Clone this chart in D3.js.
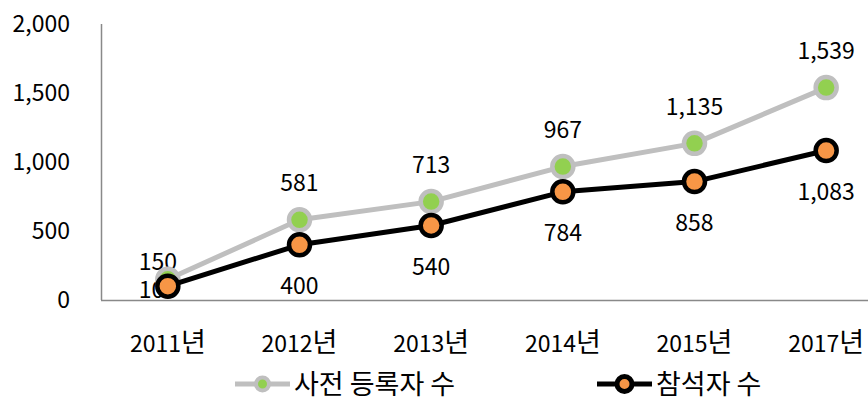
<!DOCTYPE html>
<html><head><meta charset="utf-8">
<script src="https://cdn.jsdelivr.net/npm/d3@7/dist/d3.min.js"></script>
<style>
html,body{margin:0;padding:0;background:#fff;}
svg{display:block;}
text{font-family:"Noto Sans CJK KR","Noto Sans",sans-serif;fill:#000;}
</style></head>
<body>
<script>
const categories = ["2011년","2012년","2013년","2014년","2015년","2017년"];
const registered = [150, 581, 713, 967, 1135, 1539];
const attended = [100, 400, 540, 784, 858, 1083];
const yTicks = [0, 500, 1000, 1500, 2000];
const seriesNames = ["사전 등록자 수", "참석자 수"];

const W = 868, H = 400;
const svg = d3.select("body").append("svg").attr("width", W).attr("height", H);

const x = d3.scaleBand().domain(categories).range([102, 892]).padding(0);
const y = d3.scaleLinear().domain([0, 2000]).range([300, 24]);
const cx = c => x(c) + x.bandwidth() / 2;
const fmt = d3.format(",");
const FS = 23;     // digits
const FK = 27;     // Korean glyphs

// axes lines
svg.append("line").attr("x1", 101.5).attr("x2", 101.5).attr("y1", y(2000)).attr("y2", y(0))
  .attr("stroke", "#898989").attr("stroke-width", 1.5);
svg.append("line").attr("x1", 101).attr("x2", W).attr("y1", y(0)+0.5).attr("y2", y(0)+0.5)
  .attr("stroke", "#898989").attr("stroke-width", 1.5);

// y tick labels
svg.append("g").selectAll("text").data(yTicks).join("text")
  .attr("x", 70).attr("y", d => y(d)).attr("dy", "0.36em")
  .attr("text-anchor", "end").attr("font-size", FS).text(d => fmt(d));

// x tick labels (digits + larger Korean suffix)
const xl = svg.append("g").selectAll("text").data(categories).join("text")
  .attr("x", d => cx(d)).attr("y", 352)
  .attr("text-anchor", "middle").attr("font-size", FS);
xl.append("tspan").text(d => d.replace("년", ""));
xl.append("tspan").attr("font-size", FK).text("년");

const series = [
  {name: seriesNames[0], values: registered, line: "#BFBFBF", fill: "#92D050", labelDy: [-18, -37, -37, -37, -37, -37]},
  {name: seriesNames[1], values: attended, line: "#000000", fill: "#F79646", labelDy: [4, 41, 41, 41, 41, 41]}
];
// label horizontal nudges for crowded first category
const labelDx = [-10, 0, 0, 0, 0, 0];

series.forEach(s => { s.pts = categories.map((c, i) => ({c, v: s.values[i], i})); });

// data labels (under markers)
series.forEach(s => {
  svg.append("g").selectAll("text").data(s.pts).join("text")
    .attr("x", d => cx(d.c) + labelDx[d.i]).attr("y", d => y(d.v) + s.labelDy[d.i]).attr("dy", "0.36em")
    .attr("text-anchor", "middle").attr("font-size", FS).text(d => fmt(d.v));
});

const lineGen = d3.line().x(d => cx(d.c)).y(d => y(d.v));
series.forEach(s => {
  const g = svg.append("g");
  g.append("path").attr("d", lineGen(s.pts)).attr("fill", "none")
    .attr("stroke", s.line).attr("stroke-width", 5).attr("stroke-linejoin", "round");
  g.selectAll("circle").data(s.pts).join("circle")
    .attr("cx", d => cx(d.c)).attr("cy", d => y(d.v)).attr("r", 10.5)
    .attr("fill", s.fill).attr("stroke", s.line).attr("stroke-width", 4.5);
});

// legend
const legendX = [235, 597];
series.forEach((s, i) => {
  const g = svg.append("g").attr("transform", `translate(${legendX[i]},384)`);
  g.append("line").attr("x1", 0).attr("x2", 55).attr("y1", 0).attr("y2", 0)
    .attr("stroke", s.line).attr("stroke-width", 5);
  g.append("circle").attr("cx", 27.5).attr("cy", 0).attr("r", i === 0 ? 6.5 : 7.5)
    .attr("fill", s.fill).attr("stroke", s.line).attr("stroke-width", i === 0 ? 4 : 5);
  g.append("text").attr("x", 59).attr("y", 0).attr("dy", "0.36em")
    .attr("font-size", FK).text(s.name);
});
</script>
</body></html>
